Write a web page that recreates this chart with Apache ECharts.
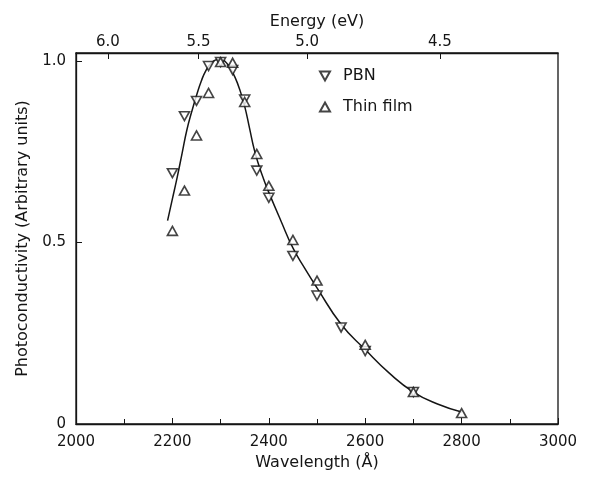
<!DOCTYPE html>
<html>
<head>
<meta charset="utf-8">
<script src="https://cdn.jsdelivr.net/npm/echarts@6/dist/echarts.min.js"></script>
<style>
html, body { margin: 0; padding: 0; background: #fff; }
#chart { width: 591px; height: 481px; }
</style>
</head>
<body>
<div id="chart"></div>
<script>
/* photoconductivity spectra, PBN and thin film */

var pbnWavelength = [2200, 2225, 2250, 2275, 2300, 2325, 2350, 2375, 2400, 2450, 2500, 2550, 2600, 2700];
var pbnValue      = [0.691, 0.848, 0.890, 0.986, 0.997, 0.975, 0.894, 0.698, 0.623, 0.463, 0.354, 0.266, 0.201, 0.088];

var filmWavelength = [2200, 2225, 2250, 2275, 2300, 2325, 2350, 2375, 2400, 2450, 2500, 2600, 2700, 2800];
var filmValue      = [0.532, 0.643, 0.795, 0.912, 0.997, 0.995, 0.887, 0.744, 0.656, 0.507, 0.395, 0.218, 0.088, 0.030];

// hand drawn fit through both sets
var fitWavelength = [2190, 2200, 2210, 2220, 2230, 2240, 2250, 2260, 2270, 2280, 2290, 2300, 2310, 2320, 2330, 2340, 2350, 2360, 2370, 2380, 2390, 2400, 2425, 2450, 2475, 2500, 2550, 2600, 2650, 2700, 2750, 2800];
var fitValue      = [0.56, 0.62, 0.68, 0.745, 0.81, 0.86, 0.905, 0.945, 0.975, 0.993, 1.003, 1.005, 0.998, 0.98, 0.955, 0.92, 0.875, 0.815, 0.755, 0.71, 0.672, 0.638, 0.56, 0.485, 0.428, 0.375, 0.275, 0.205, 0.14, 0.088, 0.055, 0.033];

var wavelengthTicks = [2000, 2200, 2400, 2600, 2800, 3000];
var valueTicks = [0, 0.5, 1.0];
var energyTicks = [6.0, 5.5, 5.0, 4.5];

var HC = 12398; // eV * Angstrom
var energyTickPos = energyTicks.map(function (e) { return HC / e; });

function pairs(xs, ys) {
    var out = [];
    for (var i = 0; i < xs.length; i++) out.push([xs[i], ys[i]]);
    return out;
}

var FONT = 'DejaVu Sans';
var INK = '#151515';
var downTri = 'path://M0,0 L10,0 L5,9 Z';

var chart = echarts.init(document.getElementById('chart'));

var option = {
    backgroundColor: '#fff',
    animation: false,
    textStyle: { fontFamily: FONT, color: INK },
    grid: {
        left: 76, right: 33, top: 53, bottom: 57,
        show: true, borderColor: INK, borderWidth: 1.3, backgroundColor: '#fff'
    },
    legend: {
        orient: 'vertical',
        left: 314, top: 63,
        itemWidth: 10, itemHeight: 9, itemGap: 15,
        data: [
            { name: 'PBN', icon: downTri },
            { name: 'Thin film', icon: 'triangle' }
        ],
        textStyle: { fontFamily: FONT, fontSize: 16, color: INK, padding: [0, 0, 0, 8] }
    },
    xAxis: [
        {
            type: 'value', position: 'bottom',
            min: 2000, max: 3000, interval: 200,
            name: 'Wavelength (Å)', nameLocation: 'middle', nameGap: 31,
            nameTextStyle: { fontFamily: FONT, fontSize: 16, color: INK },
            axisLine: { lineStyle: { color: INK, width: 1.3 } },
            axisTick: { inside: true, length: 6, lineStyle: { color: INK } },
            minorTick: { show: true, splitNumber: 2, length: 5, lineStyle: { color: INK } },
            axisLabel: {
                fontFamily: FONT, fontSize: 15, color: INK, margin: 11,
                formatter: function (v) {
                    return wavelengthTicks.indexOf(v) >= 0 ? String(v) : '';
                }
            },
            splitLine: { show: false }
        },
        {
            type: 'value', position: 'top',
            min: 2000, max: 3000,
            name: 'Energy (eV)', nameLocation: 'middle', nameGap: 23,
            nameTextStyle: { fontFamily: FONT, fontSize: 16, color: INK },
            axisLine: { lineStyle: { color: INK, width: 1.3 } },
            axisTick: { inside: true, length: 6, customValues: energyTickPos, lineStyle: { color: INK } },
            axisLabel: {
                fontFamily: FONT, fontSize: 15, color: INK, margin: 3,
                customValues: energyTickPos,
                formatter: function (v) {
                    var best = 0;
                    for (var i = 1; i < energyTickPos.length; i++) {
                        if (Math.abs(energyTickPos[i] - v) < Math.abs(energyTickPos[best] - v)) best = i;
                    }
                    return energyTicks[best].toFixed(1);
                }
            },
            splitLine: { show: false }
        }
    ],
    yAxis: {
        type: 'value',
        min: 0, max: 1.022, interval: 0.5,
        name: 'Photoconductivity (Arbitrary units)', nameLocation: 'middle', nameGap: 44,
        nameTextStyle: { fontFamily: FONT, fontSize: 16, color: INK },
        axisLine: { show: true, lineStyle: { color: INK, width: 1.3 } },
        axisTick: { inside: true, length: 6, lineStyle: { color: INK } },
        axisLabel: {
            fontFamily: FONT, fontSize: 15, color: INK, margin: 10,
            formatter: function (v) {
                for (var i = 0; i < valueTicks.length; i++) {
                    if (Math.abs(valueTicks[i] - v) < 1e-6) return v === 0 ? '0' : v.toFixed(1);
                }
                return '';
            }
        },
        splitLine: { show: false }
    },
    series: [
        {
            name: 'fit',
            type: 'line',
            data: pairs(fitWavelength, fitValue),
            smooth: true,
            showSymbol: false,
            symbol: 'none',
            lineStyle: { color: INK, width: 1.5 },
            z: 1
        },
        {
            name: 'PBN',
            type: 'scatter',
            data: pairs(pbnWavelength, pbnValue),
            symbol: downTri,
            symbolSize: [10, 9],
            itemStyle: { color: '#fff', borderColor: INK, borderWidth: 1.6 },
            z: 3
        },
        {
            name: 'Thin film',
            type: 'scatter',
            data: pairs(filmWavelength, filmValue),
            symbol: 'triangle',
            symbolSize: [10, 9],
            itemStyle: { color: '#fff', borderColor: INK, borderWidth: 1.6 },
            z: 3
        }
    ]
};

chart.setOption(option);
</script>
</body>
</html>
